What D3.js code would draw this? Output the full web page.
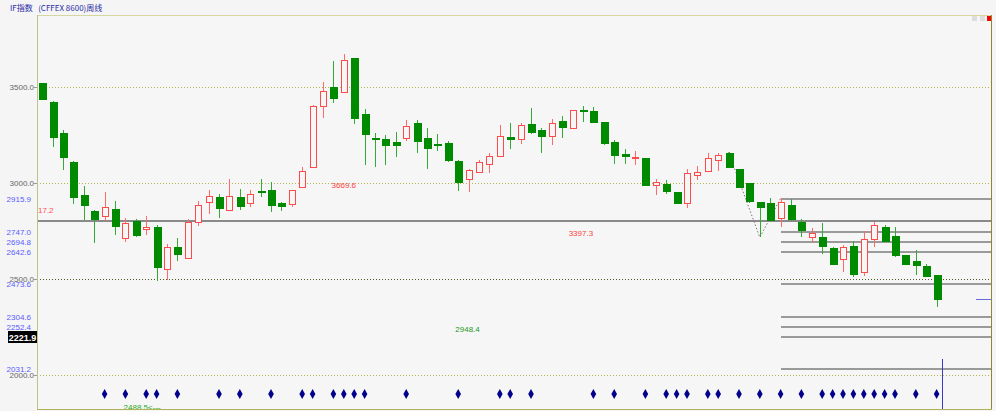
<!DOCTYPE html>
<html><head><meta charset="utf-8">
<script src="https://cdn.jsdelivr.net/npm/d3@7/dist/d3.min.js"></script>
<style>
html,body{margin:0;padding:0;background:#f5f5f5;}
svg{display:block;}
text{font-family:"Liberation Sans","DejaVu Sans",sans-serif;}
</style></head>
<body>
<svg id="c" width="996" height="411"></svg>
<script>
// ---- data ----
const title = "IF指数   (CFFEX 8600)周线";
const openP = [3519,3423,3262,3107,2937,2856,2830,2863,2712,2802,
  2759,2769,2551,2667,2608,2798,2899,2929,2859,2929,
  2894,2958,2962,2894,2891,2981,3082,3401,3498,3472,
  3649,3359,3234,3229,3212,3236,3314,3233,3203,3207,
  3116,3019,3057,3099,3139,3238,3229,3306,3274,3246,
  3323,3285,3382,3377,3316,3215,3149,3132,3129,2988,
  2997,2952,2894,3042,3064,3120,3158,3071,2998,2899,
  2894,2816,2885,2798,2720,2720,2660,2604,2672,2538,
  2710,2769,2724,2623,2594,2568,2521];
const highP = [3522,3425,3276,3112,2984,2858,2955,2908,2819,2812,
  2828,2780,2681,2712,2812,2908,2964,2943,3022,2967,
  2964,3019,3005,2903,2966,3082,3406,3526,3637,3669.6,
  3652,3384,3262,3248,3264,3328,3328,3288,3255,3220,
  3118,3074,3120,3155,3300,3311,3311,3389,3288,3333,
  3351,3382,3403,3394,3318,3224,3176,3167,3131,3021,
  3018,2954,3074,3089,3155,3155,3160,3073,3000,2902,
  2920,2920,2915,2811,2764,2790,2668,2676,2699,2752,
  2795,2780,2769,2625,2651,2577,2523];
const lowP = [3432,3186,3068,2889,2806,2689,2802,2729,2691,2720,
  2729,2491,2495,2594,2606,2776,2837,2819,2857,2859,
  2877,2926,2851,2854,2877,2979,3080,3337,3418,3470,
  3306,3095,3083,3095,3137,3219,3158,3074,3167,3111,
  2960,2952,3055,3051,3137,3179,3202,3254,3158,3198,
  3233,3283,3319,3311,3196,3099,3099,3094,2986,2937,
  2943,2895,2871,3016,3062,3064,3082,2977,2894,2717,
  2805,2772,2804,2720,2686,2629,2576,2538,2509,2517,
  2665,2698,2616,2575,2519,2514,2356];
const closeP = [3435,3238,3134,2926,2884,2814,2877,2774,2793,2731,
  2769,2561,2665,2630,2797,2885,2932,2868,2932,2880,
  2943,2952,2885,2882,2964,3064,3403,3479,3444,3641,
  3340,3257,3231,3196,3199,3298,3220,3184,3196,3118,
  3007,3068,3109,3139,3246,3228,3304,3264,3245,3311,
  3290,3380,3377,3318,3207,3146,3139,3137,2988,3003,
  2958,2897,3051,3059,3130,3146,3085,2979,2906,2873,
  2807,2903,2811,2755,2738,2672,2578,2665,2524,2710,
  2780,2699,2623,2577,2571,2516,2397];
const yTicks = [3500, 3000, 2500, 2000];
const levelValues = [2915.9, 2747.0, 2694.8, 2642.6, 2473.6, 2304.6, 2252.4, 2200.2, 2031.2];
const levelLabels = ["2915.9", "2747.0", "2694.8", "2642.6", "2473.6", "2304.6", "2252.4", "", "2031.2"];
const levelStart = 71;
const fullLineValue = 2800;
const fullLineLabel = "17.2";
const cursorLabel = "2221.9";
const signalIdx = [6,8,10,11,13,17,19,22,25,26,28,29,30,31,35,40,44,45,47,53,55,58,60,61,62,64,65,67,69,71,73,75,76,77,78,79,80,81,82,84,86];
const vPath = [[66, 3160], [69, 2717], [71, 2920]];
const notes = [
  {i: 29, v: 2988, t: "3669.6", c: "#ff4040"},
  {i: 51.8, v: 2737, t: "3397.3", c: "#ff4040"},
  {i: 40.9, v: 2240, t: "2948.4", c: "#229922"},
];
const lowNote = {i: 11, t: "2488.5<---"};

// ---- layout ----
const svg = d3.select("#c");
const L = 37, R = 991, T = 15, B = 409;
const n = openP.length;
const x = d3.scaleLinear().domain([0, n - 1]).range([42.2, 936.6]);
const y = d3.scaleLinear().domain([2000, 3500]).range([375, 87]);
const px = v => Math.round(v) + 0.5;

svg.append("rect").attr("width", 996).attr("height", 411).attr("fill", "#f5f5f5");
svg.append("rect").attr("x", L).attr("y", T).attr("width", R - L).attr("height", B - T).attr("fill", "#f6f6f6");

// title
svg.append("text").attr("x", 10).attr("y", 11).attr("fill", "#2a2aa8")
  .style("font-size", "8px").style("font-family", "'Noto Sans CJK SC','Liberation Sans',sans-serif")
  .attr("xml:space", "preserve").text(title);

// gridlines
const g = svg.append("g").attr("shape-rendering", "crispEdges");
yTicks.forEach(v => {
  g.append("line").attr("x1", L).attr("x2", R).attr("y1", px(y(v))).attr("y2", px(y(v)))
    .attr("stroke", v === 2500 ? "#55552a" : "#b4b44a").attr("stroke-dasharray", "1,2");
});

// full width line
g.append("line").attr("x1", L).attr("x2", R).attr("y1", Math.round(y(fullLineValue))).attr("y2", Math.round(y(fullLineValue)))
  .attr("stroke", "#8a8a8a").attr("stroke-width", 2);

// level lines
levelValues.forEach(v => {
  g.append("line").attr("x1", x(levelStart)).attr("x2", R).attr("y1", Math.round(y(v))).attr("y2", Math.round(y(v)))
    .attr("stroke", "#9a9a9a").attr("stroke-width", 2);
});

// dotted V
svg.append("path").attr("d", d3.line().x(d => x(d[0])).y(d => y(d[1]))(vPath))
  .attr("fill", "none").attr("stroke", "#777").attr("stroke-dasharray", "1.5,2");

// candles
const idx = d3.range(n);
const cg = svg.append("g").attr("shape-rendering", "crispEdges");
const bw = 7;
idx.forEach(i => {
  const up = closeP[i] >= openP[i];
  const cx = Math.round(x(i));
  const col = up ? "#ff6a6a" : "#33aa33";
  const top = y(Math.max(openP[i], closeP[i]));
  const bot = y(Math.min(openP[i], closeP[i]));
  cg.append("line").attr("x1", cx + 0.5).attr("x2", cx + 0.5)
    .attr("y1", y(highP[i])).attr("y2", y(lowP[i])).attr("stroke", col);
  if (up) {
    cg.append("rect").attr("x", cx - 3 + 0.5).attr("y", Math.round(top) + 0.5)
      .attr("width", bw - 1).attr("height", Math.max(1, Math.round(bot) - Math.round(top)))
      .attr("fill", "#f6f6f6").attr("stroke", "#ff4a4a");
  } else {
    cg.append("rect").attr("x", cx - 3).attr("y", Math.round(top))
      .attr("width", bw + 1).attr("height", Math.max(2, Math.round(bot) - Math.round(top) + 1))
      .attr("fill", "#008a00");
  }
});

// signal diamonds
const dy = 394;
svg.append("g").selectAll("path").data(signalIdx).join("path")
  .attr("d", i => `M${x(i)},${dy - 5}L${x(i) + 2.8},${dy}L${x(i)},${dy + 5}L${x(i) - 2.8},${dy}Z`)
  .attr("fill", "#00008c");

// axis labels
const lg = svg.append("g").style("font-size", "8px");
yTicks.forEach(v => {
  lg.append("text").attr("x", 34).attr("y", y(v) + 3).attr("text-anchor", "end").attr("fill", "#666").text(v.toFixed(1));
  g.append("line").attr("x1", 34).attr("x2", 37).attr("y1", px(y(v))).attr("y2", px(y(v))).attr("stroke", "#999");
});
levelValues.forEach((v, k) => {
  if (!levelLabels[k]) return;
  lg.append("text").attr("x", 31).attr("y", y(v) + 3).attr("text-anchor", "end").attr("fill", "#5a5aff").text(levelLabels[k]);
});
lg.append("text").attr("x", 38).attr("y", y(fullLineValue) - 8).attr("fill", "#ff5050").text(fullLineLabel);

// cursor label box
const cy = y(levelValues[7]);
svg.append("rect").attr("x", 8).attr("y", Math.round(cy) - 6).attr("width", 29).attr("height", 12).attr("fill", "#000");
svg.append("text").attr("x", 22.5).attr("y", cy + 4).attr("text-anchor", "middle").attr("fill", "#fff")
  .style("font-size", "9px").style("font-weight", "bold").text(cursorLabel);

// notes
notes.forEach(d => {
  lg.append("text").attr("x", x(d.i)).attr("y", y(d.v) + 3).attr("text-anchor", "middle").attr("fill", d.c).text(d.t);
});
lg.append("text").attr("x", x(lowNote.i) - 33).attr("y", 410).attr("fill", "#22aa22").text(lowNote.t);

// last close marker + cursor vertical
svg.append("line").attr("x1", 976).attr("x2", R).attr("y1", px(y(closeP[n - 1]))).attr("y2", px(y(closeP[n - 1])))
  .attr("stroke", "#6a6ae0").attr("shape-rendering", "crispEdges");
svg.append("line").attr("x1", 942.5).attr("x2", 942.5).attr("y1", 359).attr("y2", B)
  .attr("stroke", "#3a3ac8").attr("shape-rendering", "crispEdges");

// frame
const fg = svg.append("g").attr("shape-rendering", "crispEdges");
fg.append("line").attr("x1", L).attr("x2", R).attr("y1", T + 0.5).attr("y2", T + 0.5).attr("stroke", "#d6d6a0").attr("stroke-width", 1.5);
fg.append("line").attr("x1", L + 0.5).attr("x2", L + 0.5).attr("y1", T).attr("y2", B).attr("stroke", "#c2c288").attr("stroke-width", 1.5);
fg.append("line").attr("x1", R + 0.5).attr("x2", R + 0.5).attr("y1", T).attr("y2", B + 1).attr("stroke", "#8a8a30").attr("stroke-width", 1.5);
fg.append("line").attr("x1", L).attr("x2", R + 1).attr("y1", B + 0.5).attr("y2", B + 0.5).attr("stroke", "#b2b25a").attr("stroke-width", 1.5);

// small corner buttons
fg.append("rect").attr("x", 972).attr("y", 16).attr("width", 5).attr("height", 5).attr("fill", "#ddd");
fg.append("rect").attr("x", 980).attr("y", 16).attr("width", 5).attr("height", 5).attr("fill", "#ddd");
fg.append("rect").attr("x", 987).attr("y", 16).attr("width", 4).attr("height", 5).attr("fill", "#f00");
</script>
</body></html>
